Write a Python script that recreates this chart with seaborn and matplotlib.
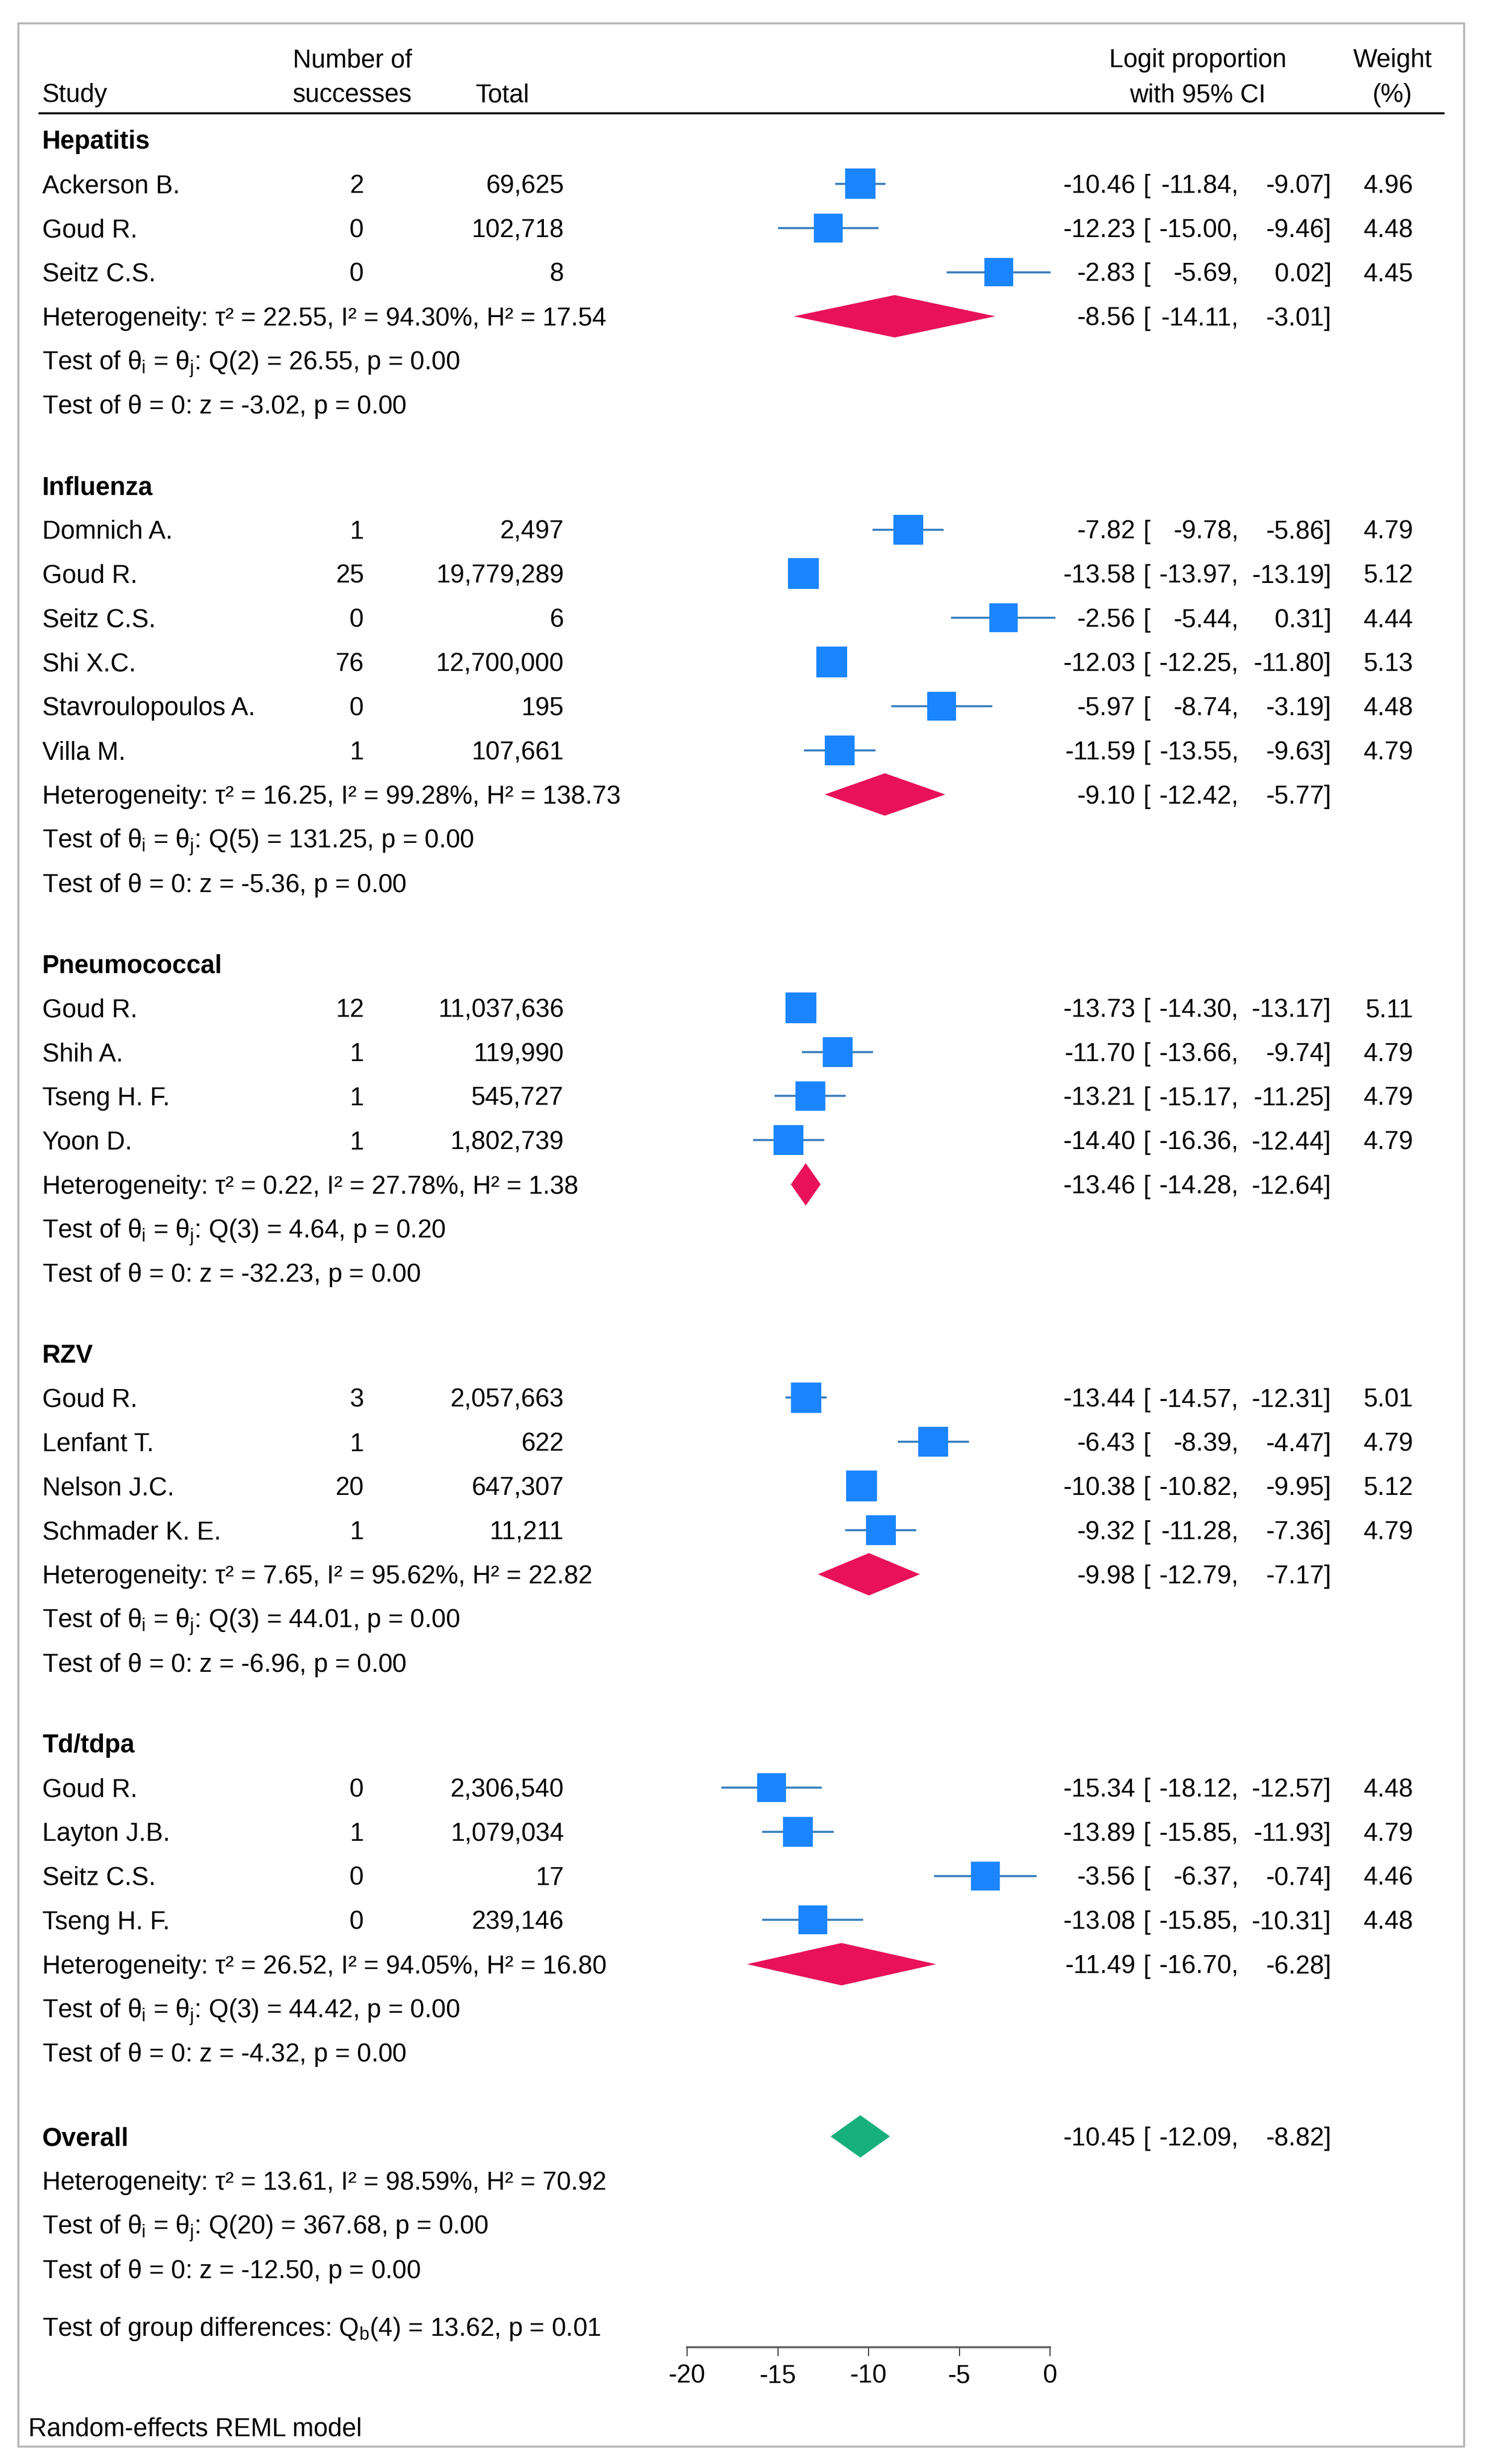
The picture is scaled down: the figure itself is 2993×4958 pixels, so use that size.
import numpy as np
import matplotlib
matplotlib.use('Agg')
import matplotlib.pyplot as plt
import matplotlib.patches as mpatches
from matplotlib.lines import Line2D
from matplotlib.transforms import blended_transform_factory
import seaborn as sns

# study level data
groups = ['Hepatitis', 'Influenza', 'Pneumococcal', 'RZV', 'Td/tdpa']
study = ['Ackerson B.', 'Goud R.', 'Seitz C.S.',
         'Domnich A.', 'Goud R.', 'Seitz C.S.', 'Shi X.C.', 'Stavroulopoulos A.', 'Villa M.',
         'Goud R.', 'Shih A.', 'Tseng H. F.', 'Yoon D.',
         'Goud R.', 'Lenfant T.', 'Nelson J.C.', 'Schmader K. E.',
         'Goud R.', 'Layton J.B.', 'Seitz C.S.', 'Tseng H. F.']
group = ['Hepatitis'] * 3 + ['Influenza'] * 6 + ['Pneumococcal'] * 4 + ['RZV'] * 4 + ['Td/tdpa'] * 4
successes = [2, 0, 0, 1, 25, 0, 76, 0, 1, 12, 1, 1, 1, 3, 1, 20, 1, 0, 1, 0, 0]
total = [69625, 102718, 8, 2497, 19779289, 6, 12700000, 195, 107661,
         11037636, 119990, 545727, 1802739, 2057663, 622, 647307, 11211,
         2306540, 1079034, 17, 239146]
est = [-10.46, -12.23, -2.83, -7.82, -13.58, -2.56, -12.03, -5.97, -11.59,
       -13.73, -11.70, -13.21, -14.40, -13.44, -6.43, -10.38, -9.32,
       -15.34, -13.89, -3.56, -13.08]
ci_lo = [-11.84, -15.00, -5.69, -9.78, -13.97, -5.44, -12.25, -8.74, -13.55,
         -14.30, -13.66, -15.17, -16.36, -14.57, -8.39, -10.82, -11.28,
         -18.12, -15.85, -6.37, -15.85]
ci_hi = [-9.07, -9.46, 0.02, -5.86, -13.19, 0.31, -11.80, -3.19, -9.63,
         -13.17, -9.74, -11.25, -12.44, -12.31, -4.47, -9.95, -7.36,
         -12.57, -11.93, -0.74, -10.31]
weight = [4.96, 4.48, 4.45, 4.79, 5.12, 4.44, 5.13, 4.48, 4.79,
          5.11, 4.79, 4.79, 4.79, 5.01, 4.79, 5.12, 4.79,
          4.48, 4.79, 4.46, 4.48]

# subgroup summaries
sub_est = [-8.56, -9.10, -13.46, -9.98, -11.49]
sub_lo = [-14.11, -12.42, -14.28, -12.79, -16.70]
sub_hi = [-3.01, -5.77, -12.64, -7.17, -6.28]
tau2 = [22.55, 16.25, 0.22, 7.65, 26.52]
i2 = [94.30, 99.28, 27.78, 95.62, 94.05]
h2 = [17.54, 138.73, 1.38, 22.82, 16.80]
q_df = [2, 5, 3, 3, 3]
q_val = [26.55, 131.25, 4.64, 44.01, 44.42]
q_p = [0.00, 0.00, 0.20, 0.00, 0.00]
z_val = [-3.02, -5.36, -32.23, -6.96, -4.32]
z_p = [0.00, 0.00, 0.00, 0.00, 0.00]

# overall
ov_est, ov_lo, ov_hi = -10.45, -12.09, -8.82
ov_tau2, ov_i2, ov_h2 = 13.61, 98.59, 70.92
ov_qdf, ov_q, ov_qp = 20, 367.68, 0.00
ov_z, ov_zp = -12.50, 0.00
qb_df, qb, qb_p = 4, 13.62, 0.01

xticks = [-20, -15, -10, -5, 0]

sns.set_theme(style='white')
plt.rcParams['font.family'] = ['Liberation Sans', 'DejaVu Sans']
plt.rcParams['axes.unicode_minus'] = False
plt.rcParams['mathtext.fontset'] = 'custom'
plt.rcParams['mathtext.rm'] = 'Liberation Sans'
plt.rcParams['mathtext.it'] = 'Liberation Sans'
plt.rcParams['mathtext.bf'] = 'Liberation Sans:bold'

W, H = 2993, 4958
ROW0 = 281      # pixel y of first row
ROWH = 88.85    # pixel height of one row
FS = 37

BLUE = '#1a85ff'
CI_COL = '#3a7fbf'
RED = '#e8115a'
GREEN = '#17b07d'

fig = plt.figure(figsize=(W / 100, H / 100), dpi=100)
ax = fig.add_axes([1382 / W, 0, 730 / W, 1])
ax.patch.set_alpha(0)
ax.set_xlim(-20, 0)
ax.set_ylim((H - ROW0) / ROWH, -ROW0 / ROWH)

tr = blended_transform_factory(fig.transFigure, ax.transData)


def put(xpx, row, s, ha='left', bold=False):
    ax.text(xpx / W, row + 0.207, s, transform=tr, ha=ha, va='baseline',
            fontsize=FS, fontweight='bold' if bold else 'normal', color='black')


def put_ci(row, e, lo, hi, w=None):
    put(2284, row, f'{e:.2f}', ha='right')
    put(2299, row, '[')
    put(2492, row, f'{lo:.2f},', ha='right')
    put(2678, row, f'{hi:.2f}]', ha='right')
    if w is not None:
        put(2843, row, f'{w:.2f}', ha='right')


def diamond(row, e, lo, hi, color):
    h = 0.48
    ax.fill([lo, e, hi, e], [row, row - h, row, row + h], color=color,
            lw=0, clip_on=False, zorder=3)


def stats_rows(row, t2, i2v, h2v, df, q, qp, z, zp):
    put(85, row, f'Heterogeneity: \u03c4\u00b2 = {t2:.2f}, I\u00b2 = {i2v:.2f}%, H\u00b2 = {h2v:.2f}')
    put(85, row + 1, r'Test of $\theta_\mathrm{i}$ = $\theta_\mathrm{j}$: ' + f'Q({df}) = {q:.2f}, p = {qp:.2f}')
    put(85, row + 2, r'Test of $\theta$ = 0: ' + f'z = {z:.2f}, p = {zp:.2f}')


# header
put(709, -1.846, 'Number of', ha='center')
put(709, -1.058, 'successes', ha='center')
put(85, -1.058, 'Study')
put(957, -1.058, 'Total')
put(2409, -1.846, 'Logit proportion', ha='center')
put(2409, -1.058, 'with 95% CI', ha='center')
put(2801, -1.846, 'Weight', ha='center')
put(2801, -1.058, '(%)', ha='center')
fig.add_artist(Line2D([79 / W, 2904 / W], [1 - 228 / H, 1 - 228 / H], color='black', lw=3))

# rows
study_rows = []
cursor = 0.0
for gi, g in enumerate(groups):
    put(85, cursor, g, bold=True)
    idx = [i for i, gg in enumerate(group) if gg == g]
    for k, i in enumerate(idx):
        r = cursor + 1 + k
        study_rows.append(r)
        put(85, r, study[i])
        put(732, r, f'{successes[i]}', ha='right')
        put(1134, r, f'{total[i]:,}', ha='right')
        put_ci(r, est[i], ci_lo[i], ci_hi[i], weight[i])
    r = cursor + len(idx) + 1
    diamond(r, sub_est[gi], sub_lo[gi], sub_hi[gi], RED)
    put_ci(r, sub_est[gi], sub_lo[gi], sub_hi[gi])
    stats_rows(r, tau2[gi], i2[gi], h2[gi], q_df[gi], q_val[gi], q_p[gi], z_val[gi], z_p[gi])
    cursor = r + 2 + 1.83

study_rows = np.array(study_rows)
ax.hlines(study_rows, ci_lo, ci_hi, color=CI_COL, lw=3, zorder=2, clip_on=False)
side_pt = 62 * np.sqrt(np.array(weight) / 5.12) * 0.72
sns.scatterplot(x=est, y=study_rows, s=side_pt ** 2, marker='s', color=BLUE,
                linewidth=0, ax=ax, zorder=4, clip_on=False, legend=False)

# overall
ov_row = cursor - 1.83 + 1.9
put(85, ov_row, 'Overall', bold=True)
diamond(ov_row, ov_est, ov_lo, ov_hi, GREEN)
put_ci(ov_row, ov_est, ov_lo, ov_hi)
stats_rows(ov_row + 1, ov_tau2, ov_i2, ov_h2, ov_qdf, ov_q, ov_qp, ov_z, ov_zp)
put(85, ov_row + 4.31, r'Test of group differences: Q$_\mathrm{b}$' + f'({qb_df}) = {qb:.2f}, p = {qb_p:.2f}')
put(57, ov_row + 6.58, 'Random-effects REML model')

# x axis
for s in ['top', 'left', 'right']:
    ax.spines[s].set_visible(False)
ax.spines['bottom'].set_position(('data', ov_row + 4.78))
ax.spines['bottom'].set_bounds(-20, 0)
ax.spines['bottom'].set_color('#666666')
ax.spines['bottom'].set_linewidth(3)
ax.set_yticks([])
ax.set_xticks(xticks)
ax.set_xticklabels([str(t) for t in xticks])
ax.tick_params(axis='x', bottom=True, length=13, width=1.5, color='#333333',
               labelsize=FS, pad=11, labelcolor='black')
ax.set_xlabel('')
ax.set_ylabel('')

# outer frame
fig.add_artist(mpatches.Rectangle((37 / W, 1 - 4923 / H), (2945 - 37) / W, (4923 - 47) / H,
                                  transform=fig.transFigure, fill=False,
                                  edgecolor='#b8b8b8', lw=3))

fig.savefig('out.png', dpi=100, facecolor='white')
